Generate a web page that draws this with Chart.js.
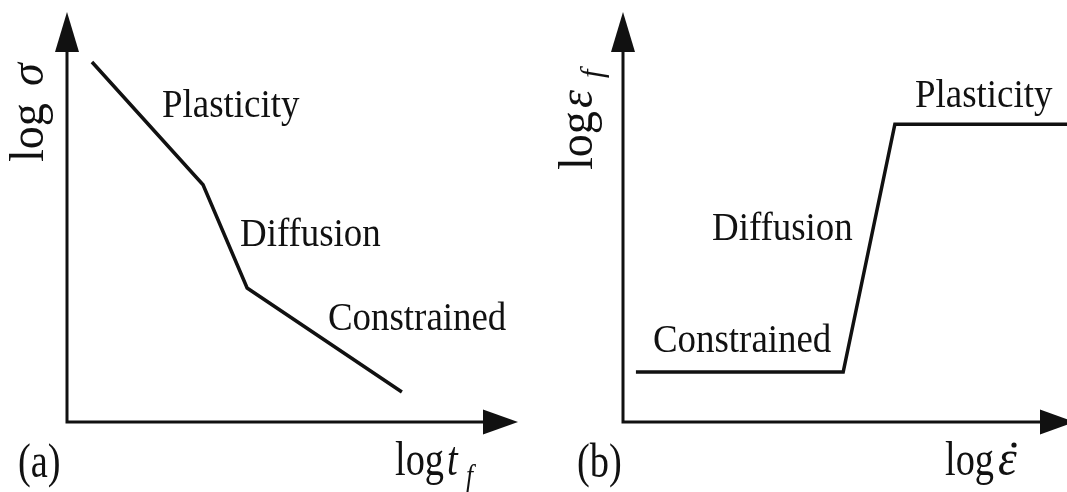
<!DOCTYPE html>
<html>
<head>
<meta charset="utf-8">
<script src="https://cdn.jsdelivr.net/npm/chart.js@4"></script>
<style>
  body { margin: 0; background: #fff; }
  .panel { position: absolute; top: 0; height: 492px; }
</style>
</head>
<body>
<div class="panel" style="left:0;width:533px"><canvas id="chartA"></canvas></div>
<div class="panel" style="left:533px;width:534px"><canvas id="chartB"></canvas></div>
<script>
// (a) log stress vs log time to failure
let regimes = ['Plasticity', 'Diffusion', 'Constrained']
let timeLog = [0.6, 3.27, 4.33, 8.05]
let stressLog = [9.73, 6.41, 3.62, 0.81]

// (b) log strain to failure vs log strain rate
let rateLog = [0.31, 5.28, 6.52, 10.65]
let strainLog = [1.35, 1.35, 8.05, 8.05]

let ink = '#111'
let serif = '"Liberation Serif", "DejaVu Serif", serif'

function toPoints(xs, ys) {
  let pts = []
  for (let i = 0; i < xs.length; i++) {
    pts.push({ x: xs[i], y: ys[i] })
  }
  return pts
}

// one piece of text, optionally italic, squeezed along the text and rotated
function drawText(ctx, t) {
  ctx.save()
  ctx.translate(t.x, t.y)
  if (t.rotate) ctx.rotate(-Math.PI / 2)
  ctx.scale(t.sx || 1, 1)
  ctx.font = (t.italic ? 'italic ' : '') + (t.size || 41) + 'px ' + serif
  ctx.fillStyle = ink
  ctx.textBaseline = 'alphabetic'
  ctx.textAlign = 'left'
  ctx.fillText(t.text, 0, 0)
  ctx.restore()
}

// axes with arrow heads plus the text of the panel
let sketchPlugin = {
  id: 'sketch',
  afterDatasetsDraw(chart, args, opts) {
    let ctx = chart.ctx
    let a = chart.chartArea
    ctx.save()
    ctx.strokeStyle = ink
    ctx.fillStyle = ink
    ctx.lineWidth = 3
    ctx.beginPath()
    ctx.moveTo(a.left, a.top)
    ctx.lineTo(a.left, a.bottom)
    ctx.lineTo(a.right, a.bottom)
    ctx.stroke()
    // y arrow
    ctx.beginPath()
    ctx.moveTo(a.left, a.top - 40)
    ctx.lineTo(a.left - 12, a.top)
    ctx.lineTo(a.left + 12, a.top)
    ctx.closePath()
    ctx.fill()
    // x arrow
    ctx.beginPath()
    ctx.moveTo(a.right + 35, a.bottom)
    ctx.lineTo(a.right, a.bottom - 12.5)
    ctx.lineTo(a.right, a.bottom + 12.5)
    ctx.closePath()
    ctx.fill()
    // rate dot over epsilon
    if (opts.dot) {
      ctx.beginPath()
      ctx.arc(opts.dot[0], opts.dot[1], 2.6, 0, Math.PI * 2)
      ctx.fill()
    }
    ctx.restore()
    for (let i = 0; i < opts.texts.length; i++) {
      drawText(ctx, opts.texts[i])
    }
  },
}

function makeChart(canvas, xs, ys, padding, texts, dot) {
  return new Chart(canvas, {
    type: 'line',
    data: {
      datasets: [
        {
          data: toPoints(xs, ys),
          borderColor: ink,
          borderWidth: 3.5,
          pointRadius: 0,
          tension: 0,
          clip: false,
        },
      ],
    },
    options: {
      responsive: true,
      maintainAspectRatio: false,
      animation: false,
      layout: { padding: padding },
      scales: {
        x: { type: 'linear', min: 0, max: 10, display: false },
        y: { type: 'linear', min: 0, max: 10, display: false },
      },
      plugins: {
        legend: { display: false },
        tooltip: { enabled: false },
        sketch: { texts: texts, dot: dot },
      },
    },
    plugins: [sketchPlugin],
  })
}

makeChart(
  document.getElementById('chartA'),
  timeLog,
  stressLog,
  { left: 67, right: 50, top: 52, bottom: 70 },
  [
    { text: regimes[0], x: 162, y: 117, sx: 0.9 },
    { text: regimes[1], x: 240, y: 246, sx: 0.9 },
    { text: regimes[2], x: 328, y: 330, sx: 0.9 },
    { text: '(a)', x: 18, y: 477, size: 48, sx: 0.8 },
    { text: 'log', x: 395, y: 475, size: 48, sx: 0.8 },
    { text: 't', x: 447, y: 475, size: 48, sx: 0.8, italic: true },
    { text: 'f', x: 466, y: 486, size: 32, sx: 0.8, italic: true },
    { text: 'log', x: 43, y: 162, size: 48, sx: 0.96, rotate: true },
    { text: 'σ', x: 43, y: 86, size: 48, sx: 0.96, rotate: true, italic: true },
  ]
)

makeChart(
  document.getElementById('chartB'),
  rateLog,
  strainLog,
  { left: 90, right: 27, top: 52, bottom: 70 },
  [
    { text: regimes[0], x: 382, y: 107, sx: 0.9 },
    { text: regimes[1], x: 179, y: 240, sx: 0.9 },
    { text: regimes[2], x: 120, y: 352, sx: 0.9 },
    { text: '(b)', x: 44, y: 477, size: 48, sx: 0.8 },
    { text: 'log', x: 412, y: 475, size: 48, sx: 0.8 },
    { text: 'ε', x: 465, y: 475, size: 50, sx: 0.95, italic: true },
    { text: 'log', x: 59, y: 170, size: 48, sx: 0.96, rotate: true },
    { text: 'ε', x: 59, y: 108, size: 48, sx: 0.96, rotate: true, italic: true },
    { text: 'f', x: 69, y: 78, size: 32, sx: 0.96, rotate: true, italic: true },
  ],
  [481, 445]
)
</script>
</body>
</html>
